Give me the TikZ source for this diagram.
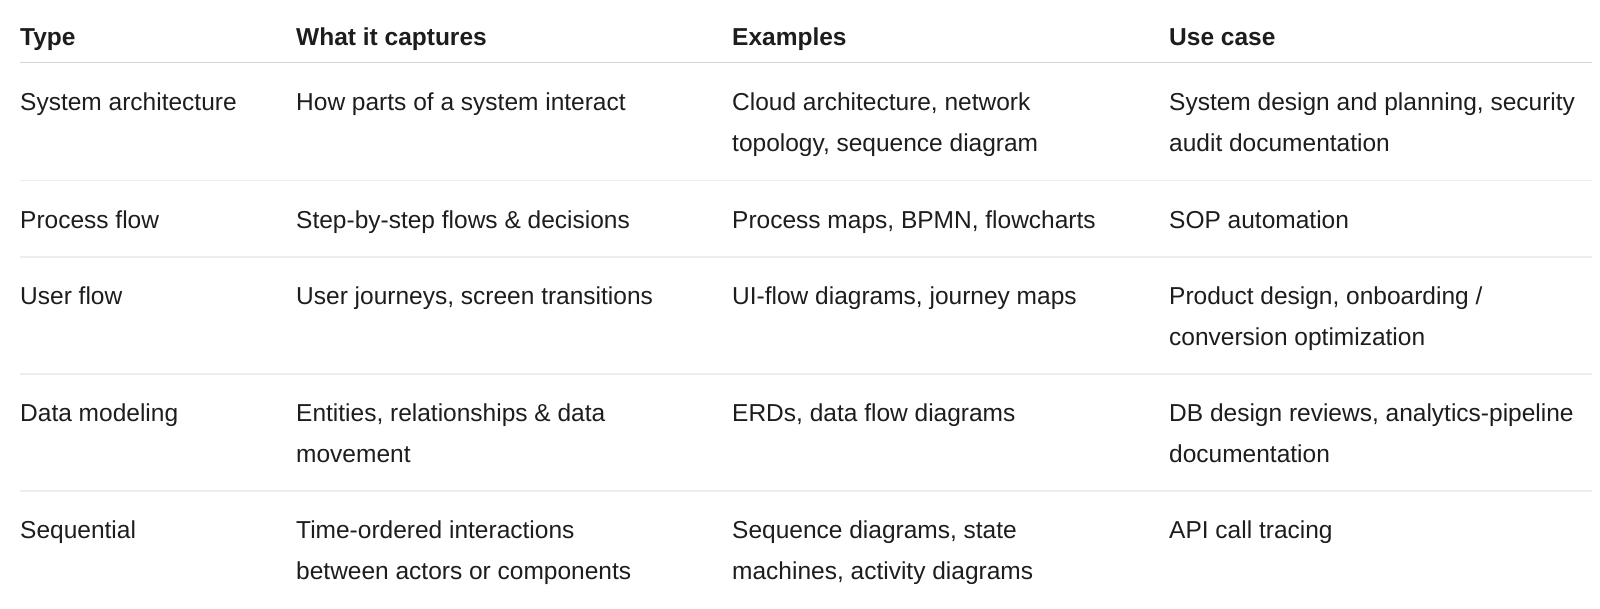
\documentclass[tikz,border=0pt]{standalone}
\usepackage{fontspec}
\setmainfont{Liberation Sans}
\definecolor{ink}{HTML}{1D1D1F}
\definecolor{headrule}{HTML}{D6D6D6}
\definecolor{rowrule}{HTML}{EDEDED}
\tikzset{x=1pt, y=-1pt,
    cell/.style={anchor=base west, inner sep=0pt, align=left, text=ink,
        font=\fontsize{24.5}{41}\selectfont},
    twocell/.style={cell, yshift=-41pt},
    headcell/.style={cell, font=\fontsize{24.5}{41}\selectfont\bfseries},
    headline/.style={headrule, line width=1.6pt},
    rowline/.style={rowrule, line width=1.4pt},
    }
\begin{document}
\begin{tikzpicture}
\useasboundingbox (0,0) rectangle (1600,608);
% header
\node[headcell] (type-hd) at (20,45) {Type};
\node[headcell] (capt-hd) at (296,45) {What it captures};
\node[headcell] (ex-hd) at (732,45) {Examples};
\node[headcell] (use-hd) at (1169,45) {Use case};
\draw[headline] (20,62.5) -- (1592,62.5);
% system architecture
\node[cell] (type-arch) at (20,110) {System architecture};
\node[cell] (capt-arch) at (296,110) {How parts of a system interact};
\node[twocell] (ex-arch) at (732,110) {Cloud architecture, network\\topology, sequence diagram};
\node[twocell] (use-arch) at (1169,110) {System design and planning, security\\audit documentation};
\draw[rowline] (20,180.5) -- (1592,180.5);
% process flow
\node[cell] (type-proc) at (20,228) {Process flow};
\node[cell] (capt-proc) at (296,228) {Step-by-step flows \& decisions};
\node[cell] (ex-proc) at (732,228) {Process maps, BPMN, flowcharts};
\node[cell] (use-proc) at (1169,228) {SOP automation};
\draw[rowline] (20,257) -- (1592,257);
% user flow
\node[cell] (type-user) at (20,304) {User flow};
\node[cell] (capt-user) at (296,304) {User journeys, screen transitions};
\node[cell] (ex-user) at (732,304) {UI-flow diagrams, journey maps};
\node[twocell] (use-user) at (1169,304) {Product design, onboarding /\\conversion optimization};
\draw[rowline] (20,374) -- (1592,374);
% data modeling
\node[cell] (type-data) at (20,421) {Data modeling};
\node[twocell] (capt-data) at (296,421) {Entities, relationships \& data\\movement};
\node[cell] (ex-data) at (732,421) {ERDs, data flow diagrams};
\node[twocell] (use-data) at (1169,421) {DB design reviews, analytics-pipeline\\documentation};
\draw[rowline] (20,491) -- (1592,491);
% sequential
\node[cell] (type-seq) at (20,538) {Sequential};
\node[twocell] (capt-seq) at (296,538) {Time-ordered interactions\\between actors or components};
\node[twocell] (ex-seq) at (732,538) {Sequence diagrams, state\\machines, activity diagrams};
\node[cell] (use-seq) at (1169,538) {API call tracing};
\end{tikzpicture}
\end{document}
